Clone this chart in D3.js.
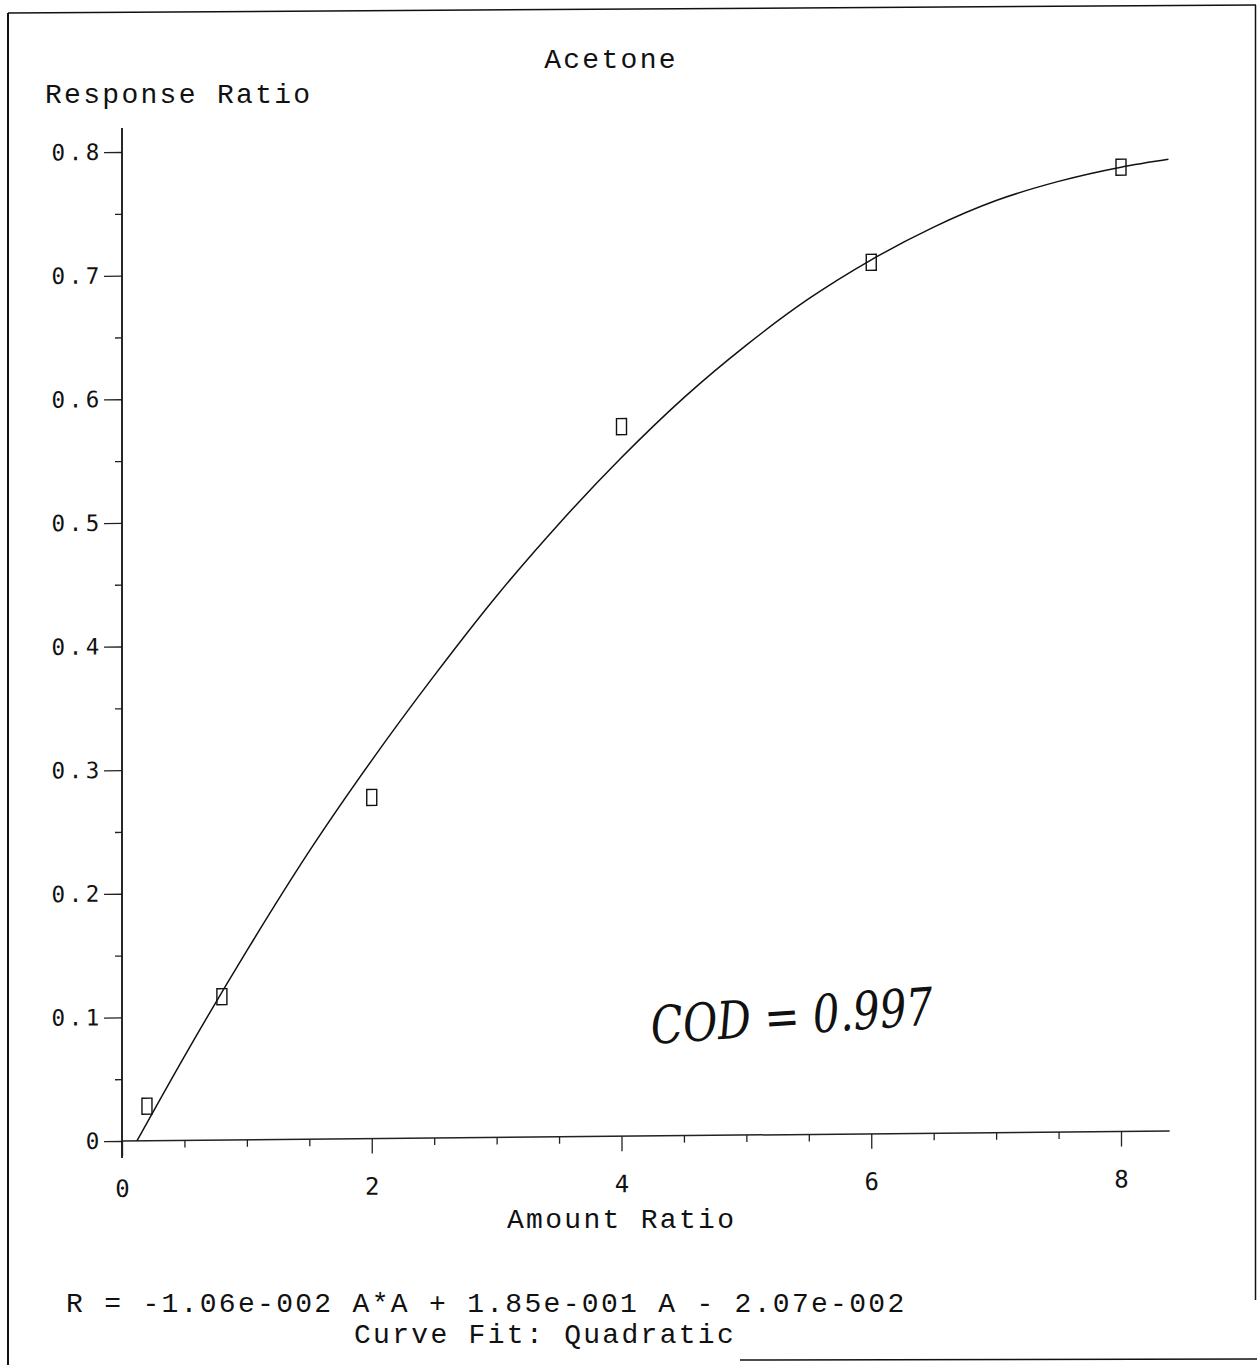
<!DOCTYPE html>
<html>
<head>
<meta charset="utf-8">
<script src="https://cdn.jsdelivr.net/npm/d3@7"></script>
<style>
  html, body { margin: 0; padding: 0; background: #fff; }
  svg { display: block; }
  .mono { font-family: "Liberation Mono", "DejaVu Sans Mono", monospace; fill: #111; }
</style>
</head>
<body>
<svg id="chart" width="1257" height="1365"></svg>
<script>
// ---- data ----
const chartTitle = "Acetone";
const yTitle = "Response Ratio";
const xTitle = "Amount Ratio";
const equationText = "R = -1.06e-002 A*A + 1.85e-001 A - 2.07e-002";
const fitText = "Curve Fit: Quadratic";
const noteText = "COD = 0.997";

const pointsA = [0.2, 0.8, 2, 4, 6, 8];
const pointsR = [0.028, 0.116, 0.276, 0.574, 0.705, 0.780];

const curveA = [0.12, 0.5, 1, 1.5, 2, 2.5, 3, 3.5, 4, 4.5, 5, 5.5, 6, 6.5, 7, 7.5, 8, 8.38];
const curveR = [0.0, 0.068, 0.153, 0.233, 0.306, 0.374, 0.438, 0.496, 0.549, 0.597, 0.639, 0.676, 0.707, 0.733, 0.754, 0.769, 0.780, 0.786];

const yTicks = [0, 0.1, 0.2, 0.3, 0.4, 0.5, 0.6, 0.7, 0.8];
const yMinorTicks = [0.05, 0.15, 0.25, 0.35, 0.45, 0.55, 0.65, 0.75];
const xTicks = [0, 2, 4, 6, 8];
const xMinorTicks = [0.5, 1, 1.5, 2.5, 3, 3.5, 4.5, 5, 5.5, 6.5, 7, 7.5];
const xTickLabels = ["0", "2", "4", "6", "8"];
const yTickLabels = ["0", "0.1", "0.2", "0.3", "0.4", "0.5", "0.6", "0.7", "0.8"];

// ---- layout ----
const svg = d3.select("#chart");
const x0 = 122, x8 = 1121, yZero = 1141, yTop = 152;
const x = d3.scaleLinear().domain([0, 8]).range([x0, x8]);
const y = d3.scaleLinear().domain([0, 0.8]).range([yZero, yTop]);

// page border (scan frame)
const frame = svg.append("g").attr("stroke", "#111").attr("fill", "none");
frame.append("line").attr("x1", 8).attr("y1", 13).attr("x2", 8).attr("y2", 1365).attr("stroke-width", 2);
frame.append("line").attr("x1", 8).attr("y1", 13).attr("x2", 1256).attr("y2", 5).attr("stroke-width", 1.5);
frame.append("line").attr("x1", 1255.5).attr("y1", 5).attr("x2", 1255.5).attr("y2", 1300).attr("stroke-width", 1.5);
frame.append("line").attr("x1", 740).attr("y1", 1360).attr("x2", 1257).attr("y2", 1359).attr("stroke-width", 1.5);

// plot group, slightly sheared like the scanned page
const g = svg.append("g")
  .attr("transform", `translate(${x0},${yZero}) skewY(-0.547) translate(${-x0},${-yZero})`);

// Y axis
const yAxis = d3.axisLeft(y).tickValues(yTicks).tickSize(18).tickPadding(1)
  .tickFormat((d, i) => yTickLabels[i]);
const yAx = g.append("g").attr("transform", `translate(${x0},0)`).call(yAxis);
yAx.select(".domain").remove();
yAx.selectAll("line").attr("stroke", "#222").attr("stroke-width", 1.3);
yAx.selectAll("text")
  .attr("font-family", "'DejaVu Sans Mono', monospace")
  .attr("font-size", 22.5).attr("letter-spacing", 3.6).attr("fill", "#111");

const yMinor = d3.axisLeft(y).tickValues(yMinorTicks).tickSize(7).tickFormat("");
const yMin = g.append("g").attr("transform", `translate(${x0},0)`).call(yMinor);
yMin.select(".domain").remove();
yMin.selectAll("line").attr("stroke", "#222").attr("stroke-width", 1.3);

// Y axis line
g.append("line")
  .attr("x1", x0).attr("x2", x0)
  .attr("y1", y(0.8) - 24).attr("y2", y(0) + 17)
  .attr("stroke", "#111").attr("stroke-width", 1.8);

// X axis
const xAxis = d3.axisBottom(x).tickValues(xTicks).tickSize(15).tickPadding(24)
  .tickFormat((d, i) => xTickLabels[i]);
const xAx = g.append("g").attr("transform", `translate(0,${yZero})`).call(xAxis);
xAx.select(".domain").remove();
xAx.selectAll("line").attr("stroke", "#222").attr("stroke-width", 1.3);
xAx.selectAll("text")
  .attr("font-family", "'DejaVu Sans Mono', monospace")
  .attr("font-size", 24).attr("fill", "#111");

const xMinor = d3.axisBottom(x).tickValues(xMinorTicks).tickSize(7).tickFormat("");
const xMin = g.append("g").attr("transform", `translate(0,${yZero})`).call(xMinor);
xMin.select(".domain").remove();
xMin.selectAll("line").attr("stroke", "#222").attr("stroke-width", 1.3);

g.append("line")
  .attr("x1", x0).attr("x2", x(8.39))
  .attr("y1", yZero).attr("y2", yZero)
  .attr("stroke", "#222").attr("stroke-width", 1.5);

// fitted curve
const curveData = curveA.map((a, i) => [a, curveR[i]]);
g.append("path")
  .datum(curveData)
  .attr("fill", "none").attr("stroke", "#111").attr("stroke-width", 1.5)
  .attr("d", d3.line().x(d => x(d[0])).y(d => y(d[1])).curve(d3.curveMonotoneX));

// markers
const pts = pointsA.map((a, i) => ({ a, r: pointsR[i] }));
g.selectAll("rect.pt").data(pts).enter().append("rect")
  .attr("class", "pt")
  .attr("x", d => x(d.a) - 5).attr("y", d => y(d.r) - 8)
  .attr("width", 10).attr("height", 16)
  .attr("fill", "none").attr("stroke", "#111").attr("stroke-width", 1.4);

// texts
svg.append("text").attr("class", "mono")
  .attr("x", 611).attr("y", 68).attr("text-anchor", "middle")
  .attr("font-size", 28).attr("letter-spacing", 2.3).text(chartTitle);
svg.append("text").attr("class", "mono")
  .attr("x", 45).attr("y", 103)
  .attr("font-size", 28).attr("letter-spacing", 2.3).text(yTitle);
svg.append("text").attr("class", "mono")
  .attr("x", 507).attr("y", 1228)
  .attr("font-size", 28).attr("letter-spacing", 2.3).text(xTitle);
svg.append("text").attr("class", "mono")
  .attr("x", 66).attr("y", 1312)
  .attr("font-size", 28).attr("letter-spacing", 2.3).text(equationText);
svg.append("text").attr("class", "mono")
  .attr("x", 354).attr("y", 1343)
  .attr("font-size", 28).attr("letter-spacing", 2.3).text(fitText);

// handwritten note
svg.append("text")
  .attr("x", 652).attr("y", 1044)
  .attr("transform", "rotate(-4 652 1044)")
  .attr("font-family", "'DejaVu Serif', serif")
  .attr("font-style", "italic")
  .attr("font-size", 52)
  .attr("textLength", 283).attr("lengthAdjust", "spacingAndGlyphs")
  .attr("fill", "#111")
  .text(noteText);
</script>
</body>
</html>
